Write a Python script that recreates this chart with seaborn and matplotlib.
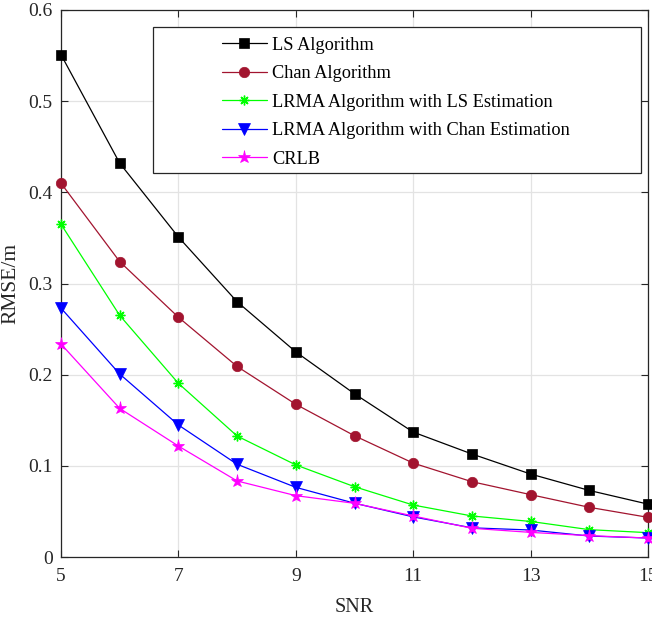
import numpy as np
import pandas as pd
import matplotlib
matplotlib.use("Agg")
import matplotlib.pyplot as plt
import seaborn as sns
from matplotlib.patches import Rectangle

snr = [5, 6, 7, 8, 9, 10, 11, 12, 13, 14, 15]
ls_alg = [0.551, 0.432, 0.351, 0.280, 0.225, 0.179, 0.137, 0.113, 0.091, 0.073, 0.058]
chan_alg = [0.410, 0.324, 0.263, 0.209, 0.1675, 0.133, 0.103, 0.0826, 0.0684, 0.0545, 0.0435]
lrma_ls = [0.365, 0.265, 0.1905, 0.1327, 0.101, 0.0771, 0.057, 0.045, 0.039, 0.030, 0.0267]
lrma_chan = [0.273, 0.2007, 0.1448, 0.1017, 0.0764, 0.059, 0.044, 0.032, 0.0296, 0.023, 0.0208]
crlb = [0.2336, 0.163, 0.1217, 0.0834, 0.0673, 0.0589, 0.045, 0.0315, 0.027, 0.0234, 0.0208]

names = ["LS Algorithm", "Chan Algorithm", "LRMA Algorithm with LS Estimation",
         "LRMA Algorithm with Chan Estimation", "CRLB"]
series = [ls_alg, chan_alg, lrma_ls, lrma_chan, crlb]
colors = ["#000000", "#A2142F", "#00FF00", "#0000FF", "#FF00FF"]
markers = ["s", "o", (8, 2, 0), "v", "*"]
msizes = [6.5, 7.5, 7, 8.5, 9.5]

rows = []
for n, s in zip(names, series):
    for x, y in zip(snr, s):
        rows.append({"SNR": x, "RMSE": y, "Method": n})
df = pd.DataFrame(rows)

sns.set_theme(style="white")
plt.rcParams['font.family'] = ['Liberation Serif', 'DejaVu Serif']
plt.rcParams['mathtext.fontset'] = 'stix'

fig = plt.figure(figsize=(6.52, 6.22), dpi=100)
ax = fig.add_axes([61/652, 1-557/622, (648-61)/652, (557-10)/622])

for n, c, m, ms in zip(names, colors, markers, msizes):
    sub = df[df["Method"] == n]
    sns.lineplot(data=sub, x="SNR", y="RMSE", ax=ax, color=c, marker=m,
                 markersize=ms, markeredgecolor=c, markerfacecolor=c,
                 markeredgewidth=1.0 if m == (8, 2, 0) else 0.5,
                 linewidth=0.9, label=n, clip_on=False, zorder=3)

ax.set_xlim(5, 15)
ax.set_ylim(0, 0.6)
ax.set_xticks([5, 7, 9, 11, 13, 15])
ax.set_yticks([0, 0.1, 0.2, 0.3, 0.4, 0.5, 0.6])
ax.set_yticklabels(["0", "0.1", "0.2", "0.3", "0.4", "0.5", "0.6"])
ax.grid(True, color="#E3E3E3", linewidth=0.9)
ax.set_axisbelow(True)
for sp in ax.spines.values():
    sp.set_color("#262626")
    sp.set_linewidth(0.9)
ax.tick_params(axis="both", direction="in", length=5, width=0.8, color="#262626",
               labelsize=14, labelcolor="#262626", top=True, right=True,
               left=True, bottom=True, pad=6)
ax.tick_params(axis="x", pad=8)
ax.set_xlabel("SNR", fontsize=14.5, color="#262626", labelpad=9)
ax.set_ylabel("RMSE/m", fontsize=15.5, color="#262626", labelpad=6)

# legend frame
x0 = (153-61)/587; x1 = (641-61)/587
y0 = (557-173)/547; y1 = (557-27)/547
ax.add_patch(Rectangle((x0, y0), x1-x0, y1-y0, transform=ax.transAxes,
                       facecolor="white", edgecolor="#262626", linewidth=0.9, zorder=4))
leg = ax.legend(loc="upper left", bbox_to_anchor=((218-61)/587, (557-33)/547),
                frameon=False, fontsize=13.2, handlelength=2.45, handletextpad=0.3,
                labelspacing=0.63, borderpad=0.2, borderaxespad=0)
leg.set_zorder(5)
for t in leg.get_texts():
    t.set_color("#000000")

fig.savefig("out.png", dpi=100)
